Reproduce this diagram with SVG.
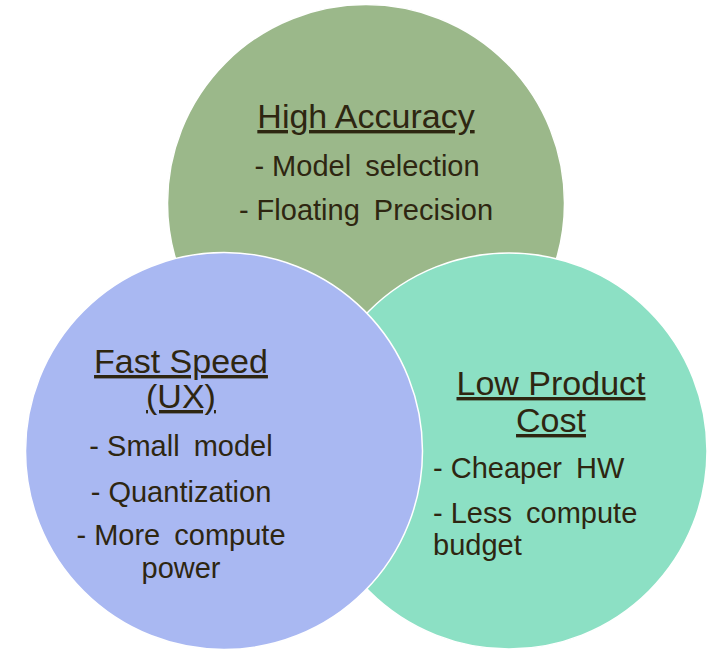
<svg xmlns="http://www.w3.org/2000/svg" width="718" height="650" viewBox="0 0 718 650">
<style>
.c{stroke:#ffffff;stroke-width:1.5}
text{font-family:"Liberation Sans",Arial,sans-serif;fill:#2e2611}
.h{font-size:34px;text-decoration:underline;text-anchor:middle}
.b{font-size:29px;word-spacing:6px}
.d{word-spacing:0}
.m{text-anchor:middle}
</style>
<rect width="718" height="650" fill="#ffffff"/>
<g id="high-accuracy">
<circle class="c" cx="366" cy="203" r="198.5" fill="#9bb88a"/>
<text class="h" x="366" y="128">High Accuracy</text>
<text class="b m" x="367" y="176"><tspan class="d">- </tspan>Model selection</text>
<text class="b m" x="366" y="220"><tspan class="d">- </tspan>Floating Precision</text>
</g>
<g id="low-product-cost">
<circle class="c" cx="509" cy="451" r="198" fill="#8ce0c4"/>
<text class="h" x="551" y="395">Low Product</text>
<text class="h" x="551" y="432">Cost</text>
<text class="b" x="433" y="478"><tspan class="d">- </tspan>Cheaper HW</text>
<text class="b" x="433" y="523"><tspan class="d">- </tspan>Less compute</text>
<text class="b" x="433" y="555">budget</text>
</g>
<g id="fast-speed">
<circle class="c" cx="224" cy="451" r="198.5" fill="#a9b8f2"/>
<text class="h" x="181" y="373">Fast Speed</text>
<text class="h" x="181" y="408">(UX)</text>
<text class="b m" x="181" y="456"><tspan class="d">- </tspan>Small model</text>
<text class="b m" x="181" y="502"><tspan class="d">- </tspan>Quantization</text>
<text class="b m" x="181" y="545"><tspan class="d">- </tspan>More compute</text>
<text class="b m" x="181" y="578">power</text>
</g>
</svg>
